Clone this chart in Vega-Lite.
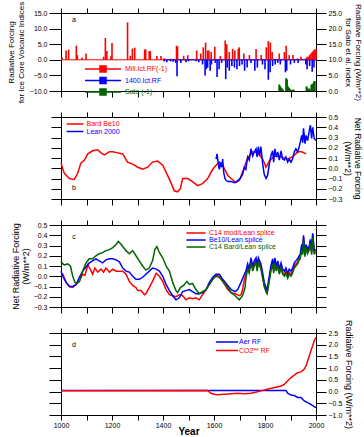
{
"$schema":"https://vega.github.io/schema/vega-lite/v6.json",
"padding":{"left":6,"top":0,"right":0,"bottom":0},
"bounds":"flush",
"spacing":26,
"config":{
 "font":"Liberation Sans",
 "view":{"stroke":"black","strokeWidth":1},
 "axis":{"grid":false,"domain":false,"tickColor":"black","labelColor":"black","titleColor":"black","labelFont":"Liberation Sans","titleFont":"Liberation Sans","labelFontSize":7,"titleFontSize":9,"titleFontWeight":"normal","labelFlush":false,"labelBound":false,"labelOverlap":false,"labelPadding":2,"tickWidth":1},
 "legend":{"labelFont":"Liberation Sans","labelFontSize":7,"padding":0,"symbolStrokeWidth":1.5}
},
"datasets":{
 "volc":[
  {"year":1004,"rf":0.7,"series":"Mill.Ict.RF(-1)"},{"year":1020,"rf":3.0,"series":"Mill.Ict.RF(-1)"},{"year":1030,"rf":3.3,"series":"Mill.Ict.RF(-1)"},{"year":1060,"rf":4.5,"series":"Mill.Ict.RF(-1)"},{"year":1064,"rf":1.5,"series":"Mill.Ict.RF(-1)"},{"year":1082,"rf":0.7,"series":"Mill.Ict.RF(-1)"},{"year":1098,"rf":2.0,"series":"Mill.Ict.RF(-1)"},{"year":1167,"rf":1.0,"series":"Mill.Ict.RF(-1)"},{"year":1174,"rf":7.0,"series":"Mill.Ict.RF(-1)"},{"year":1180,"rf":2.8,"series":"Mill.Ict.RF(-1)"},{"year":1196,"rf":1.2,"series":"Mill.Ict.RF(-1)"},{"year":1200,"rf":5.4,"series":"Mill.Ict.RF(-1)"},{"year":1261,"rf":12.0,"series":"Mill.Ict.RF(-1)"},{"year":1272,"rf":1.3,"series":"Mill.Ict.RF(-1)"},{"year":1280,"rf":3.6,"series":"Mill.Ict.RF(-1)"},{"year":1289,"rf":3.9,"series":"Mill.Ict.RF(-1)"},{"year":1328,"rf":3.3,"series":"Mill.Ict.RF(-1)"},{"year":1332,"rf":3.3,"series":"Mill.Ict.RF(-1)"},{"year":1346,"rf":2.8,"series":"Mill.Ict.RF(-1)"},{"year":1350,"rf":2.8,"series":"Mill.Ict.RF(-1)"},{"year":1376,"rf":1.2,"series":"Mill.Ict.RF(-1)"},{"year":1392,"rf":1.2,"series":"Mill.Ict.RF(-1)"},{"year":1405,"rf":0.5,"series":"Mill.Ict.RF(-1)"},{"year":1430,"rf":0.3,"series":"Mill.Ict.RF(-1)"},{"year":1453,"rf":4.5,"series":"Mill.Ict.RF(-1)"},{"year":1457,"rf":4.3,"series":"Mill.Ict.RF(-1)"},{"year":1481,"rf":1.3,"series":"Mill.Ict.RF(-1)"},{"year":1497,"rf":1.5,"series":"Mill.Ict.RF(-1)"},{"year":1532,"rf":3.0,"series":"Mill.Ict.RF(-1)"},{"year":1548,"rf":2.0,"series":"Mill.Ict.RF(-1)"},{"year":1558,"rf":4.0,"series":"Mill.Ict.RF(-1)"},{"year":1567,"rf":5.5,"series":"Mill.Ict.RF(-1)"},{"year":1575,"rf":3.0,"series":"Mill.Ict.RF(-1)"},{"year":1580,"rf":3.0,"series":"Mill.Ict.RF(-1)"},{"year":1589,"rf":2.5,"series":"Mill.Ict.RF(-1)"},{"year":1603,"rf":4.2,"series":"Mill.Ict.RF(-1)"},{"year":1625,"rf":1.2,"series":"Mill.Ict.RF(-1)"},{"year":1644,"rf":6.2,"series":"Mill.Ict.RF(-1)"},{"year":1650,"rf":5.0,"series":"Mill.Ict.RF(-1)"},{"year":1660,"rf":2.5,"series":"Mill.Ict.RF(-1)"},{"year":1673,"rf":3.5,"series":"Mill.Ict.RF(-1)"},{"year":1682,"rf":3.0,"series":"Mill.Ict.RF(-1)"},{"year":1695,"rf":3.5,"series":"Mill.Ict.RF(-1)"},{"year":1699,"rf":4.0,"series":"Mill.Ict.RF(-1)"},{"year":1717,"rf":2.0,"series":"Mill.Ict.RF(-1)"},{"year":1739,"rf":1.5,"series":"Mill.Ict.RF(-1)"},{"year":1765,"rf":3.5,"series":"Mill.Ict.RF(-1)"},{"year":1785,"rf":1.5,"series":"Mill.Ict.RF(-1)"},{"year":1805,"rf":4.0,"series":"Mill.Ict.RF(-1)"},{"year":1813,"rf":6.0,"series":"Mill.Ict.RF(-1)"},{"year":1821,"rf":5.5,"series":"Mill.Ict.RF(-1)"},{"year":1828,"rf":2.5,"series":"Mill.Ict.RF(-1)"},{"year":1856,"rf":2.0,"series":"Mill.Ict.RF(-1)"},{"year":1876,"rf":2.5,"series":"Mill.Ict.RF(-1)"},{"year":1883,"rf":4.5,"series":"Mill.Ict.RF(-1)"},{"year":1895,"rf":1.5,"series":"Mill.Ict.RF(-1)"},{"year":1910,"rf":1.5,"series":"Mill.Ict.RF(-1)"},{"year":1928,"rf":0.5,"series":"Mill.Ict.RF(-1)"},{"year":1941,"rf":1.0,"series":"Mill.Ict.RF(-1)"},{"year":1960,"rf":0.5,"series":"Mill.Ict.RF(-1)"},{"year":1965,"rf":1.0,"series":"Mill.Ict.RF(-1)"},{"year":1970,"rf":1.0,"series":"Mill.Ict.RF(-1)"},{"year":1975,"rf":1.5,"series":"Mill.Ict.RF(-1)"},{"year":1980,"rf":2.0,"series":"Mill.Ict.RF(-1)"},{"year":1985,"rf":2.5,"series":"Mill.Ict.RF(-1)"},{"year":1990,"rf":3.0,"series":"Mill.Ict.RF(-1)"},{"year":1995,"rf":3.3,"series":"Mill.Ict.RF(-1)"},{"year":2000,"rf":3.5,"series":"Mill.Ict.RF(-1)"},
  {"year":1405,"rf":-0.5,"series":"1400.Ict.RF"},{"year":1415,"rf":-0.8,"series":"1400.Ict.RF"},{"year":1430,"rf":-0.5,"series":"1400.Ict.RF"},{"year":1440,"rf":-0.6,"series":"1400.Ict.RF"},{"year":1450,"rf":-1.0,"series":"1400.Ict.RF"},{"year":1455,"rf":-5.3,"series":"1400.Ict.RF"},{"year":1470,"rf":-1.0,"series":"1400.Ict.RF"},{"year":1490,"rf":-0.8,"series":"1400.Ict.RF"},{"year":1500,"rf":-0.5,"series":"1400.Ict.RF"},{"year":1530,"rf":-0.5,"series":"1400.Ict.RF"},{"year":1540,"rf":-0.8,"series":"1400.Ict.RF"},{"year":1555,"rf":-1.5,"series":"1400.Ict.RF"},{"year":1565,"rf":-5.0,"series":"1400.Ict.RF"},{"year":1570,"rf":-3.0,"series":"1400.Ict.RF"},{"year":1575,"rf":-2.5,"series":"1400.Ict.RF"},{"year":1585,"rf":-3.5,"series":"1400.Ict.RF"},{"year":1590,"rf":-1.5,"series":"1400.Ict.RF"},{"year":1605,"rf":-1.0,"series":"1400.Ict.RF"},{"year":1612,"rf":-5.5,"series":"1400.Ict.RF"},{"year":1620,"rf":-3.0,"series":"1400.Ict.RF"},{"year":1630,"rf":-1.0,"series":"1400.Ict.RF"},{"year":1646,"rf":-6.2,"series":"1400.Ict.RF"},{"year":1652,"rf":-2.5,"series":"1400.Ict.RF"},{"year":1660,"rf":-3.5,"series":"1400.Ict.RF"},{"year":1670,"rf":-2.0,"series":"1400.Ict.RF"},{"year":1680,"rf":-2.5,"series":"1400.Ict.RF"},{"year":1690,"rf":-3.0,"series":"1400.Ict.RF"},{"year":1700,"rf":-2.0,"series":"1400.Ict.RF"},{"year":1710,"rf":-1.5,"series":"1400.Ict.RF"},{"year":1720,"rf":-3.5,"series":"1400.Ict.RF"},{"year":1730,"rf":-2.5,"series":"1400.Ict.RF"},{"year":1745,"rf":-1.0,"series":"1400.Ict.RF"},{"year":1760,"rf":-3.5,"series":"1400.Ict.RF"},{"year":1770,"rf":-2.5,"series":"1400.Ict.RF"},{"year":1790,"rf":-1.5,"series":"1400.Ict.RF"},{"year":1800,"rf":-3.0,"series":"1400.Ict.RF"},{"year":1813,"rf":-6.4,"series":"1400.Ict.RF"},{"year":1820,"rf":-4.0,"series":"1400.Ict.RF"},{"year":1830,"rf":-2.0,"series":"1400.Ict.RF"},{"year":1840,"rf":-1.5,"series":"1400.Ict.RF"},{"year":1850,"rf":-1.0,"series":"1400.Ict.RF"},{"year":1860,"rf":-1.5,"series":"1400.Ict.RF"},{"year":1880,"rf":-4.0,"series":"1400.Ict.RF"},{"year":1885,"rf":-3.5,"series":"1400.Ict.RF"},{"year":1900,"rf":-1.5,"series":"1400.Ict.RF"},{"year":1915,"rf":-1.0,"series":"1400.Ict.RF"},{"year":1930,"rf":-1.0,"series":"1400.Ict.RF"},{"year":1960,"rf":-1.5,"series":"1400.Ict.RF"},{"year":1965,"rf":-3.0,"series":"1400.Ict.RF"},{"year":1975,"rf":-2.0,"series":"1400.Ict.RF"},{"year":1985,"rf":-3.8,"series":"1400.Ict.RF"},{"year":1992,"rf":-2.5,"series":"1400.Ict.RF"}
 ],
 "sato":[
  {"year":1856,"sato":2.1,"series":"Sato (-1)"},{"year":1860,"sato":1.5,"series":"Sato (-1)"},{"year":1865,"sato":1.0,"series":"Sato (-1)"},{"year":1870,"sato":0.5,"series":"Sato (-1)"},{"year":1883,"sato":4.1,"series":"Sato (-1)"},{"year":1886,"sato":3.7,"series":"Sato (-1)"},{"year":1890,"sato":1.5,"series":"Sato (-1)"},{"year":1895,"sato":1.0,"series":"Sato (-1)"},{"year":1900,"sato":0.5,"series":"Sato (-1)"},{"year":1905,"sato":0.3,"series":"Sato (-1)"},{"year":1912,"sato":0.5,"series":"Sato (-1)"},{"year":1963,"sato":1.5,"series":"Sato (-1)"},{"year":1966,"sato":1.0,"series":"Sato (-1)"},{"year":1970,"sato":0.5,"series":"Sato (-1)"},{"year":1975,"sato":0.8,"series":"Sato (-1)"},{"year":1982,"sato":2.0,"series":"Sato (-1)"},{"year":1985,"sato":2.2,"series":"Sato (-1)"},{"year":1990,"sato":2.5,"series":"Sato (-1)"},{"year":1992,"sato":3.0,"series":"Sato (-1)"},{"year":1995,"sato":3.2,"series":"Sato (-1)"}
 ],
 "zero":[
  {"start":1000,"end":2000,"series":"Mill.Ict.RF(-1)"},{"start":1400,"end":2000,"series":"1400.Ict.RF"}
 ],
 "pb":[
  {"year":1000,"rf":0.05,"series":"Bard Be10"},{"year":1013,"rf":-0.05,"series":"Bard Be10"},{"year":1033,"rf":-0.10,"series":"Bard Be10"},{"year":1052,"rf":-0.11,"series":"Bard Be10"},{"year":1065,"rf":-0.05,"series":"Bard Be10"},{"year":1078,"rf":0.05,"series":"Bard Be10"},{"year":1092,"rf":0.08,"series":"Bard Be10"},{"year":1105,"rf":0.14,"series":"Bard Be10"},{"year":1124,"rf":0.17,"series":"Bard Be10"},{"year":1144,"rf":0.18,"series":"Bard Be10"},{"year":1157,"rf":0.15,"series":"Bard Be10"},{"year":1170,"rf":0.13,"series":"Bard Be10"},{"year":1190,"rf":0.16,"series":"Bard Be10"},{"year":1203,"rf":0.16,"series":"Bard Be10"},{"year":1222,"rf":0.15,"series":"Bard Be10"},{"year":1242,"rf":0.14,"series":"Bard Be10"},{"year":1261,"rf":0.06,"series":"Bard Be10"},{"year":1281,"rf":0.04,"series":"Bard Be10"},{"year":1301,"rf":0.01,"series":"Bard Be10"},{"year":1320,"rf":-0.01,"series":"Bard Be10"},{"year":1340,"rf":0.01,"series":"Bard Be10"},{"year":1359,"rf":0.06,"series":"Bard Be10"},{"year":1379,"rf":0.07,"series":"Bard Be10"},{"year":1399,"rf":0.03,"series":"Bard Be10"},{"year":1418,"rf":-0.07,"series":"Bard Be10"},{"year":1431,"rf":-0.14,"series":"Bard Be10"},{"year":1444,"rf":-0.22,"series":"Bard Be10"},{"year":1457,"rf":-0.23,"series":"Bard Be10"},{"year":1468,"rf":-0.20,"series":"Bard Be10"},{"year":1477,"rf":-0.10,"series":"Bard Be10"},{"year":1497,"rf":-0.10,"series":"Bard Be10"},{"year":1516,"rf":-0.13,"series":"Bard Be10"},{"year":1536,"rf":-0.17,"series":"Bard Be10"},{"year":1555,"rf":-0.15,"series":"Bard Be10"},{"year":1575,"rf":-0.10,"series":"Bard Be10"},{"year":1595,"rf":-0.01,"series":"Bard Be10"},{"year":1608,"rf":0.03,"series":"Bard Be10"},{"year":1621,"rf":0.06,"series":"Bard Be10"},{"year":1634,"rf":0.03,"series":"Bard Be10"},{"year":1654,"rf":-0.07,"series":"Bard Be10"},{"year":1667,"rf":-0.10,"series":"Bard Be10"},{"year":1686,"rf":-0.14,"series":"Bard Be10"},{"year":1699,"rf":-0.12,"series":"Bard Be10"},{"year":1719,"rf":0.01,"series":"Bard Be10"},{"year":1732,"rf":0.10,"series":"Bard Be10"},{"year":1752,"rf":0.16,"series":"Bard Be10"},{"year":1771,"rf":0.15,"series":"Bard Be10"},{"year":1791,"rf":0.09,"series":"Bard Be10"},{"year":1804,"rf":0.01,"series":"Bard Be10"},{"year":1817,"rf":0.07,"series":"Bard Be10"},{"year":1837,"rf":0.12,"series":"Bard Be10"},{"year":1863,"rf":0.11,"series":"Bard Be10"},{"year":1889,"rf":0.09,"series":"Bard Be10"},{"year":1908,"rf":0.11,"series":"Bard Be10"},{"year":1928,"rf":0.16,"series":"Bard Be10"},{"year":1944,"rf":0.16,"series":"Bard Be10"},{"year":1961,"rf":0.14,"series":"Bard Be10"},
  {"year":1608,"rf":0.09,"series":"Lean 2000"},{"year":1612,"rf":0.14,"series":"Lean 2000"},{"year":1617,"rf":0.04,"series":"Lean 2000"},{"year":1621,"rf":-0.01,"series":"Lean 2000"},{"year":1625,"rf":0.06,"series":"Lean 2000"},{"year":1630,"rf":0.01,"series":"Lean 2000"},{"year":1634,"rf":0.09,"series":"Lean 2000"},{"year":1638,"rf":-0.04,"series":"Lean 2000"},{"year":1643,"rf":-0.10,"series":"Lean 2000"},{"year":1648,"rf":-0.12,"series":"Lean 2000"},{"year":1654,"rf":-0.13,"series":"Lean 2000"},{"year":1667,"rf":-0.13,"series":"Lean 2000"},{"year":1680,"rf":-0.14,"series":"Lean 2000"},{"year":1693,"rf":-0.12,"series":"Lean 2000"},{"year":1703,"rf":-0.10,"series":"Lean 2000"},{"year":1712,"rf":-0.06,"series":"Lean 2000"},{"year":1719,"rf":0.01,"series":"Lean 2000"},{"year":1725,"rf":-0.01,"series":"Lean 2000"},{"year":1732,"rf":0.11,"series":"Lean 2000"},{"year":1738,"rf":0.08,"series":"Lean 2000"},{"year":1745,"rf":0.19,"series":"Lean 2000"},{"year":1752,"rf":0.12,"series":"Lean 2000"},{"year":1758,"rf":0.16,"series":"Lean 2000"},{"year":1765,"rf":0.19,"series":"Lean 2000"},{"year":1769,"rf":0.11,"series":"Lean 2000"},{"year":1774,"rf":0.21,"series":"Lean 2000"},{"year":1779,"rf":0.12,"series":"Lean 2000"},{"year":1784,"rf":0.21,"series":"Lean 2000"},{"year":1791,"rf":0.04,"series":"Lean 2000"},{"year":1797,"rf":-0.06,"series":"Lean 2000"},{"year":1804,"rf":-0.10,"series":"Lean 2000"},{"year":1810,"rf":-0.07,"series":"Lean 2000"},{"year":1817,"rf":0.04,"series":"Lean 2000"},{"year":1823,"rf":0.12,"series":"Lean 2000"},{"year":1830,"rf":0.17,"series":"Lean 2000"},{"year":1834,"rf":0.06,"series":"Lean 2000"},{"year":1839,"rf":0.19,"series":"Lean 2000"},{"year":1844,"rf":0.11,"series":"Lean 2000"},{"year":1850,"rf":0.16,"series":"Lean 2000"},{"year":1856,"rf":0.08,"series":"Lean 2000"},{"year":1863,"rf":0.17,"series":"Lean 2000"},{"year":1869,"rf":0.09,"series":"Lean 2000"},{"year":1876,"rf":0.08,"series":"Lean 2000"},{"year":1882,"rf":0.11,"series":"Lean 2000"},{"year":1889,"rf":0.06,"series":"Lean 2000"},{"year":1895,"rf":0.09,"series":"Lean 2000"},{"year":1902,"rf":0.06,"series":"Lean 2000"},{"year":1908,"rf":0.09,"series":"Lean 2000"},{"year":1915,"rf":0.16,"series":"Lean 2000"},{"year":1921,"rf":0.19,"series":"Lean 2000"},{"year":1928,"rf":0.16,"series":"Lean 2000"},{"year":1934,"rf":0.21,"series":"Lean 2000"},{"year":1938,"rf":0.25,"series":"Lean 2000"},{"year":1944,"rf":0.32,"series":"Lean 2000"},{"year":1948,"rf":0.25,"series":"Lean 2000"},{"year":1951,"rf":0.39,"series":"Lean 2000"},{"year":1957,"rf":0.24,"series":"Lean 2000"},{"year":1961,"rf":0.32,"series":"Lean 2000"},{"year":1967,"rf":0.27,"series":"Lean 2000"},{"year":1974,"rf":0.37,"series":"Lean 2000"},{"year":1978,"rf":0.42,"series":"Lean 2000"},{"year":1983,"rf":0.29,"series":"Lean 2000"},{"year":1987,"rf":0.40,"series":"Lean 2000"},{"year":1993,"rf":0.29,"series":"Lean 2000"},{"year":2000,"rf":0.27,"series":"Lean 2000"}
 ],
 "pc":[
  {"year":1000,"rf":0.00,"series":"C14 mod/Lean splice"},{"year":1007,"rf":0.02,"series":"C14 mod/Lean splice"},{"year":1020,"rf":-0.06,"series":"C14 mod/Lean splice"},{"year":1033,"rf":-0.10,"series":"C14 mod/Lean splice"},{"year":1046,"rf":-0.11,"series":"C14 mod/Lean splice"},{"year":1059,"rf":-0.08,"series":"C14 mod/Lean splice"},{"year":1072,"rf":-0.05,"series":"C14 mod/Lean splice"},{"year":1085,"rf":0.02,"series":"C14 mod/Lean splice"},{"year":1094,"rf":0.01,"series":"C14 mod/Lean splice"},{"year":1105,"rf":0.11,"series":"C14 mod/Lean splice"},{"year":1115,"rf":0.07,"series":"C14 mod/Lean splice"},{"year":1124,"rf":0.02,"series":"C14 mod/Lean splice"},{"year":1133,"rf":0.08,"series":"C14 mod/Lean splice"},{"year":1144,"rf":0.04,"series":"C14 mod/Lean splice"},{"year":1157,"rf":0.07,"series":"C14 mod/Lean splice"},{"year":1167,"rf":0.04,"series":"C14 mod/Lean splice"},{"year":1176,"rf":0.08,"series":"C14 mod/Lean splice"},{"year":1190,"rf":0.04,"series":"C14 mod/Lean splice"},{"year":1203,"rf":0.07,"series":"C14 mod/Lean splice"},{"year":1216,"rf":0.05,"series":"C14 mod/Lean splice"},{"year":1229,"rf":0.05,"series":"C14 mod/Lean splice"},{"year":1242,"rf":0.05,"series":"C14 mod/Lean splice"},{"year":1255,"rf":0.02,"series":"C14 mod/Lean splice"},{"year":1268,"rf":-0.05,"series":"C14 mod/Lean splice"},{"year":1281,"rf":-0.09,"series":"C14 mod/Lean splice"},{"year":1294,"rf":-0.11,"series":"C14 mod/Lean splice"},{"year":1301,"rf":-0.14,"series":"C14 mod/Lean splice"},{"year":1314,"rf":-0.14,"series":"C14 mod/Lean splice"},{"year":1327,"rf":-0.18,"series":"C14 mod/Lean splice"},{"year":1333,"rf":-0.17,"series":"C14 mod/Lean splice"},{"year":1346,"rf":-0.11,"series":"C14 mod/Lean splice"},{"year":1359,"rf":-0.05,"series":"C14 mod/Lean splice"},{"year":1373,"rf":0.03,"series":"C14 mod/Lean splice"},{"year":1386,"rf":0.00,"series":"C14 mod/Lean splice"},{"year":1399,"rf":-0.05,"series":"C14 mod/Lean splice"},{"year":1412,"rf":-0.13,"series":"C14 mod/Lean splice"},{"year":1425,"rf":-0.18,"series":"C14 mod/Lean splice"},{"year":1438,"rf":-0.19,"series":"C14 mod/Lean splice"},{"year":1451,"rf":-0.20,"series":"C14 mod/Lean splice"},{"year":1464,"rf":-0.18,"series":"C14 mod/Lean splice"},{"year":1477,"rf":-0.19,"series":"C14 mod/Lean splice"},{"year":1490,"rf":-0.23,"series":"C14 mod/Lean splice"},{"year":1503,"rf":-0.21,"series":"C14 mod/Lean splice"},{"year":1516,"rf":-0.22,"series":"C14 mod/Lean splice"},{"year":1529,"rf":-0.21,"series":"C14 mod/Lean splice"},{"year":1542,"rf":-0.23,"series":"C14 mod/Lean splice"},{"year":1555,"rf":-0.18,"series":"C14 mod/Lean splice"},{"year":1569,"rf":-0.13,"series":"C14 mod/Lean splice"},{"year":1582,"rf":-0.08,"series":"C14 mod/Lean splice"},{"year":1595,"rf":-0.03,"series":"C14 mod/Lean splice"},{"year":1608,"rf":0.01,"series":"C14 mod/Lean splice"},{"year":1621,"rf":0.00,"series":"C14 mod/Lean splice"},{"year":1634,"rf":-0.05,"series":"C14 mod/Lean splice"},{"year":1654,"rf":-0.13,"series":"C14 mod/Lean splice"},{"year":1667,"rf":-0.16,"series":"C14 mod/Lean splice"},{"year":1683,"rf":-0.17,"series":"C14 mod/Lean splice"},{"year":1699,"rf":-0.19,"series":"C14 mod/Lean splice"},{"year":1706,"rf":-0.18,"series":"C14 mod/Lean splice"},{"year":1712,"rf":-0.13,"series":"C14 mod/Lean splice"},{"year":1719,"rf":-0.03,"series":"C14 mod/Lean splice"},{"year":1725,"rf":0.02,"series":"C14 mod/Lean splice"},{"year":1732,"rf":0.09,"series":"C14 mod/Lean splice"},{"year":1738,"rf":0.05,"series":"C14 mod/Lean splice"},{"year":1745,"rf":0.15,"series":"C14 mod/Lean splice"},{"year":1752,"rf":0.07,"series":"C14 mod/Lean splice"},{"year":1758,"rf":0.12,"series":"C14 mod/Lean splice"},{"year":1765,"rf":0.15,"series":"C14 mod/Lean splice"},{"year":1769,"rf":0.07,"series":"C14 mod/Lean splice"},{"year":1774,"rf":0.15,"series":"C14 mod/Lean splice"},{"year":1784,"rf":0.09,"series":"C14 mod/Lean splice"},{"year":1791,"rf":0.00,"series":"C14 mod/Lean splice"},{"year":1797,"rf":-0.09,"series":"C14 mod/Lean splice"},{"year":1804,"rf":-0.14,"series":"C14 mod/Lean splice"},{"year":1808,"rf":-0.17,"series":"C14 mod/Lean splice"},{"year":1813,"rf":-0.09,"series":"C14 mod/Lean splice"},{"year":1818,"rf":-0.01,"series":"C14 mod/Lean splice"},{"year":1823,"rf":0.07,"series":"C14 mod/Lean splice"},{"year":1830,"rf":0.14,"series":"C14 mod/Lean splice"},{"year":1834,"rf":0.05,"series":"C14 mod/Lean splice"},{"year":1839,"rf":0.15,"series":"C14 mod/Lean splice"},{"year":1844,"rf":0.07,"series":"C14 mod/Lean splice"},{"year":1850,"rf":0.12,"series":"C14 mod/Lean splice"},{"year":1856,"rf":0.04,"series":"C14 mod/Lean splice"},{"year":1863,"rf":0.10,"series":"C14 mod/Lean splice"},{"year":1869,"rf":0.04,"series":"C14 mod/Lean splice"},{"year":1876,"rf":0.02,"series":"C14 mod/Lean splice"},{"year":1882,"rf":0.05,"series":"C14 mod/Lean splice"},{"year":1889,"rf":0.00,"series":"C14 mod/Lean splice"},{"year":1895,"rf":0.04,"series":"C14 mod/Lean splice"},{"year":1902,"rf":0.02,"series":"C14 mod/Lean splice"},{"year":1908,"rf":0.05,"series":"C14 mod/Lean splice"},{"year":1915,"rf":0.10,"series":"C14 mod/Lean splice"},{"year":1921,"rf":0.12,"series":"C14 mod/Lean splice"},{"year":1928,"rf":0.14,"series":"C14 mod/Lean splice"},{"year":1934,"rf":0.18,"series":"C14 mod/Lean splice"},{"year":1938,"rf":0.19,"series":"C14 mod/Lean splice"},{"year":1944,"rf":0.29,"series":"C14 mod/Lean splice"},{"year":1948,"rf":0.23,"series":"C14 mod/Lean splice"},{"year":1951,"rf":0.38,"series":"C14 mod/Lean splice"},{"year":1957,"rf":0.21,"series":"C14 mod/Lean splice"},{"year":1961,"rf":0.30,"series":"C14 mod/Lean splice"},{"year":1967,"rf":0.24,"series":"C14 mod/Lean splice"},{"year":1974,"rf":0.28,"series":"C14 mod/Lean splice"},{"year":1978,"rf":0.34,"series":"C14 mod/Lean splice"},{"year":1983,"rf":0.23,"series":"C14 mod/Lean splice"},{"year":1987,"rf":0.41,"series":"C14 mod/Lean splice"},{"year":1993,"rf":0.24,"series":"C14 mod/Lean splice"},{"year":2000,"rf":0.25,"series":"C14 mod/Lean splice"},
  {"year":1000,"rf":0.05,"series":"Be10/Lean splice"},{"year":1007,"rf":0.00,"series":"Be10/Lean splice"},{"year":1020,"rf":-0.06,"series":"Be10/Lean splice"},{"year":1033,"rf":-0.10,"series":"Be10/Lean splice"},{"year":1046,"rf":-0.10,"series":"Be10/Lean splice"},{"year":1059,"rf":-0.08,"series":"Be10/Lean splice"},{"year":1072,"rf":-0.01,"series":"Be10/Lean splice"},{"year":1085,"rf":0.05,"series":"Be10/Lean splice"},{"year":1098,"rf":0.09,"series":"Be10/Lean splice"},{"year":1111,"rf":0.13,"series":"Be10/Lean splice"},{"year":1124,"rf":0.15,"series":"Be10/Lean splice"},{"year":1137,"rf":0.17,"series":"Be10/Lean splice"},{"year":1150,"rf":0.15,"series":"Be10/Lean splice"},{"year":1163,"rf":0.13,"series":"Be10/Lean splice"},{"year":1176,"rf":0.16,"series":"Be10/Lean splice"},{"year":1190,"rf":0.17,"series":"Be10/Lean splice"},{"year":1203,"rf":0.17,"series":"Be10/Lean splice"},{"year":1216,"rf":0.16,"series":"Be10/Lean splice"},{"year":1229,"rf":0.14,"series":"Be10/Lean splice"},{"year":1242,"rf":0.08,"series":"Be10/Lean splice"},{"year":1255,"rf":0.05,"series":"Be10/Lean splice"},{"year":1268,"rf":0.04,"series":"Be10/Lean splice"},{"year":1281,"rf":0.00,"series":"Be10/Lean splice"},{"year":1294,"rf":-0.03,"series":"Be10/Lean splice"},{"year":1307,"rf":-0.03,"series":"Be10/Lean splice"},{"year":1320,"rf":-0.01,"series":"Be10/Lean splice"},{"year":1333,"rf":0.02,"series":"Be10/Lean splice"},{"year":1346,"rf":0.05,"series":"Be10/Lean splice"},{"year":1359,"rf":0.08,"series":"Be10/Lean splice"},{"year":1373,"rf":0.07,"series":"Be10/Lean splice"},{"year":1386,"rf":0.05,"series":"Be10/Lean splice"},{"year":1399,"rf":0.00,"series":"Be10/Lean splice"},{"year":1412,"rf":-0.08,"series":"Be10/Lean splice"},{"year":1425,"rf":-0.14,"series":"Be10/Lean splice"},{"year":1438,"rf":-0.19,"series":"Be10/Lean splice"},{"year":1451,"rf":-0.23,"series":"Be10/Lean splice"},{"year":1464,"rf":-0.21,"series":"Be10/Lean splice"},{"year":1477,"rf":-0.15,"series":"Be10/Lean splice"},{"year":1490,"rf":-0.14,"series":"Be10/Lean splice"},{"year":1503,"rf":-0.13,"series":"Be10/Lean splice"},{"year":1516,"rf":-0.15,"series":"Be10/Lean splice"},{"year":1529,"rf":-0.17,"series":"Be10/Lean splice"},{"year":1542,"rf":-0.17,"series":"Be10/Lean splice"},{"year":1555,"rf":-0.16,"series":"Be10/Lean splice"},{"year":1569,"rf":-0.13,"series":"Be10/Lean splice"},{"year":1582,"rf":-0.06,"series":"Be10/Lean splice"},{"year":1595,"rf":-0.01,"series":"Be10/Lean splice"},{"year":1608,"rf":0.02,"series":"Be10/Lean splice"},{"year":1621,"rf":0.02,"series":"Be10/Lean splice"},{"year":1634,"rf":-0.03,"series":"Be10/Lean splice"},{"year":1654,"rf":-0.09,"series":"Be10/Lean splice"},{"year":1667,"rf":-0.13,"series":"Be10/Lean splice"},{"year":1683,"rf":-0.15,"series":"Be10/Lean splice"},{"year":1693,"rf":-0.13,"series":"Be10/Lean splice"},{"year":1706,"rf":-0.06,"series":"Be10/Lean splice"},{"year":1719,"rf":0.02,"series":"Be10/Lean splice"},{"year":1725,"rf":0.05,"series":"Be10/Lean splice"},{"year":1732,"rf":0.12,"series":"Be10/Lean splice"},{"year":1738,"rf":0.07,"series":"Be10/Lean splice"},{"year":1745,"rf":0.18,"series":"Be10/Lean splice"},{"year":1752,"rf":0.10,"series":"Be10/Lean splice"},{"year":1758,"rf":0.15,"series":"Be10/Lean splice"},{"year":1765,"rf":0.18,"series":"Be10/Lean splice"},{"year":1769,"rf":0.10,"series":"Be10/Lean splice"},{"year":1774,"rf":0.18,"series":"Be10/Lean splice"},{"year":1784,"rf":0.12,"series":"Be10/Lean splice"},{"year":1791,"rf":0.03,"series":"Be10/Lean splice"},{"year":1797,"rf":-0.06,"series":"Be10/Lean splice"},{"year":1804,"rf":-0.11,"series":"Be10/Lean splice"},{"year":1808,"rf":-0.14,"series":"Be10/Lean splice"},{"year":1813,"rf":-0.06,"series":"Be10/Lean splice"},{"year":1818,"rf":0.02,"series":"Be10/Lean splice"},{"year":1823,"rf":0.10,"series":"Be10/Lean splice"},{"year":1830,"rf":0.17,"series":"Be10/Lean splice"},{"year":1834,"rf":0.08,"series":"Be10/Lean splice"},{"year":1839,"rf":0.18,"series":"Be10/Lean splice"},{"year":1844,"rf":0.10,"series":"Be10/Lean splice"},{"year":1850,"rf":0.15,"series":"Be10/Lean splice"},{"year":1856,"rf":0.07,"series":"Be10/Lean splice"},{"year":1863,"rf":0.13,"series":"Be10/Lean splice"},{"year":1869,"rf":0.07,"series":"Be10/Lean splice"},{"year":1876,"rf":0.05,"series":"Be10/Lean splice"},{"year":1882,"rf":0.08,"series":"Be10/Lean splice"},{"year":1889,"rf":0.03,"series":"Be10/Lean splice"},{"year":1895,"rf":0.07,"series":"Be10/Lean splice"},{"year":1902,"rf":0.05,"series":"Be10/Lean splice"},{"year":1908,"rf":0.08,"series":"Be10/Lean splice"},{"year":1915,"rf":0.13,"series":"Be10/Lean splice"},{"year":1921,"rf":0.15,"series":"Be10/Lean splice"},{"year":1928,"rf":0.17,"series":"Be10/Lean splice"},{"year":1934,"rf":0.20,"series":"Be10/Lean splice"},{"year":1938,"rf":0.21,"series":"Be10/Lean splice"},{"year":1944,"rf":0.31,"series":"Be10/Lean splice"},{"year":1948,"rf":0.25,"series":"Be10/Lean splice"},{"year":1951,"rf":0.40,"series":"Be10/Lean splice"},{"year":1957,"rf":0.23,"series":"Be10/Lean splice"},{"year":1961,"rf":0.31,"series":"Be10/Lean splice"},{"year":1967,"rf":0.26,"series":"Be10/Lean splice"},{"year":1974,"rf":0.30,"series":"Be10/Lean splice"},{"year":1978,"rf":0.36,"series":"Be10/Lean splice"},{"year":1983,"rf":0.25,"series":"Be10/Lean splice"},{"year":1987,"rf":0.42,"series":"Be10/Lean splice"},{"year":1993,"rf":0.25,"series":"Be10/Lean splice"},{"year":2000,"rf":0.26,"series":"Be10/Lean splice"},
  {"year":1000,"rf":0.15,"series":"C14 Bard/Lean splice"},{"year":1007,"rf":0.12,"series":"C14 Bard/Lean splice"},{"year":1013,"rf":0.11,"series":"C14 Bard/Lean splice"},{"year":1026,"rf":0.12,"series":"C14 Bard/Lean splice"},{"year":1037,"rf":0.10,"series":"C14 Bard/Lean splice"},{"year":1046,"rf":0.00,"series":"C14 Bard/Lean splice"},{"year":1055,"rf":-0.06,"series":"C14 Bard/Lean splice"},{"year":1063,"rf":-0.07,"series":"C14 Bard/Lean splice"},{"year":1072,"rf":-0.05,"series":"C14 Bard/Lean splice"},{"year":1085,"rf":0.05,"series":"C14 Bard/Lean splice"},{"year":1098,"rf":0.13,"series":"C14 Bard/Lean splice"},{"year":1111,"rf":0.17,"series":"C14 Bard/Lean splice"},{"year":1124,"rf":0.17,"series":"C14 Bard/Lean splice"},{"year":1137,"rf":0.20,"series":"C14 Bard/Lean splice"},{"year":1150,"rf":0.22,"series":"C14 Bard/Lean splice"},{"year":1163,"rf":0.23,"series":"C14 Bard/Lean splice"},{"year":1176,"rf":0.25,"series":"C14 Bard/Lean splice"},{"year":1190,"rf":0.26,"series":"C14 Bard/Lean splice"},{"year":1203,"rf":0.28,"series":"C14 Bard/Lean splice"},{"year":1216,"rf":0.31,"series":"C14 Bard/Lean splice"},{"year":1225,"rf":0.34,"series":"C14 Bard/Lean splice"},{"year":1233,"rf":0.32,"series":"C14 Bard/Lean splice"},{"year":1242,"rf":0.29,"series":"C14 Bard/Lean splice"},{"year":1255,"rf":0.25,"series":"C14 Bard/Lean splice"},{"year":1268,"rf":0.22,"series":"C14 Bard/Lean splice"},{"year":1281,"rf":0.25,"series":"C14 Bard/Lean splice"},{"year":1294,"rf":0.20,"series":"C14 Bard/Lean splice"},{"year":1307,"rf":0.15,"series":"C14 Bard/Lean splice"},{"year":1320,"rf":0.10,"series":"C14 Bard/Lean splice"},{"year":1333,"rf":0.06,"series":"C14 Bard/Lean splice"},{"year":1346,"rf":0.08,"series":"C14 Bard/Lean splice"},{"year":1359,"rf":0.15,"series":"C14 Bard/Lean splice"},{"year":1368,"rf":0.26,"series":"C14 Bard/Lean splice"},{"year":1376,"rf":0.29,"series":"C14 Bard/Lean splice"},{"year":1386,"rf":0.23,"series":"C14 Bard/Lean splice"},{"year":1399,"rf":0.18,"series":"C14 Bard/Lean splice"},{"year":1412,"rf":0.10,"series":"C14 Bard/Lean splice"},{"year":1425,"rf":0.05,"series":"C14 Bard/Lean splice"},{"year":1438,"rf":-0.06,"series":"C14 Bard/Lean splice"},{"year":1451,"rf":-0.14,"series":"C14 Bard/Lean splice"},{"year":1457,"rf":-0.16,"series":"C14 Bard/Lean splice"},{"year":1468,"rf":-0.11,"series":"C14 Bard/Lean splice"},{"year":1481,"rf":-0.09,"series":"C14 Bard/Lean splice"},{"year":1494,"rf":-0.05,"series":"C14 Bard/Lean splice"},{"year":1503,"rf":-0.08,"series":"C14 Bard/Lean splice"},{"year":1516,"rf":-0.07,"series":"C14 Bard/Lean splice"},{"year":1529,"rf":-0.13,"series":"C14 Bard/Lean splice"},{"year":1542,"rf":-0.17,"series":"C14 Bard/Lean splice"},{"year":1555,"rf":-0.15,"series":"C14 Bard/Lean splice"},{"year":1569,"rf":-0.13,"series":"C14 Bard/Lean splice"},{"year":1582,"rf":-0.08,"series":"C14 Bard/Lean splice"},{"year":1595,"rf":-0.03,"series":"C14 Bard/Lean splice"},{"year":1608,"rf":0.00,"series":"C14 Bard/Lean splice"},{"year":1621,"rf":-0.01,"series":"C14 Bard/Lean splice"},{"year":1634,"rf":-0.05,"series":"C14 Bard/Lean splice"},{"year":1654,"rf":-0.11,"series":"C14 Bard/Lean splice"},{"year":1667,"rf":-0.16,"series":"C14 Bard/Lean splice"},{"year":1683,"rf":-0.19,"series":"C14 Bard/Lean splice"},{"year":1699,"rf":-0.23,"series":"C14 Bard/Lean splice"},{"year":1712,"rf":-0.19,"series":"C14 Bard/Lean splice"},{"year":1722,"rf":-0.11,"series":"C14 Bard/Lean splice"},{"year":1725,"rf":-0.02,"series":"C14 Bard/Lean splice"},{"year":1732,"rf":0.07,"series":"C14 Bard/Lean splice"},{"year":1738,"rf":0.03,"series":"C14 Bard/Lean splice"},{"year":1745,"rf":0.13,"series":"C14 Bard/Lean splice"},{"year":1752,"rf":0.05,"series":"C14 Bard/Lean splice"},{"year":1758,"rf":0.10,"series":"C14 Bard/Lean splice"},{"year":1765,"rf":0.13,"series":"C14 Bard/Lean splice"},{"year":1769,"rf":0.05,"series":"C14 Bard/Lean splice"},{"year":1774,"rf":0.13,"series":"C14 Bard/Lean splice"},{"year":1784,"rf":0.07,"series":"C14 Bard/Lean splice"},{"year":1791,"rf":-0.02,"series":"C14 Bard/Lean splice"},{"year":1797,"rf":-0.10,"series":"C14 Bard/Lean splice"},{"year":1804,"rf":-0.15,"series":"C14 Bard/Lean splice"},{"year":1808,"rf":-0.17,"series":"C14 Bard/Lean splice"},{"year":1813,"rf":-0.10,"series":"C14 Bard/Lean splice"},{"year":1818,"rf":-0.03,"series":"C14 Bard/Lean splice"},{"year":1823,"rf":0.05,"series":"C14 Bard/Lean splice"},{"year":1830,"rf":0.12,"series":"C14 Bard/Lean splice"},{"year":1834,"rf":0.03,"series":"C14 Bard/Lean splice"},{"year":1839,"rf":0.13,"series":"C14 Bard/Lean splice"},{"year":1844,"rf":0.05,"series":"C14 Bard/Lean splice"},{"year":1850,"rf":0.10,"series":"C14 Bard/Lean splice"},{"year":1856,"rf":0.02,"series":"C14 Bard/Lean splice"},{"year":1863,"rf":0.08,"series":"C14 Bard/Lean splice"},{"year":1869,"rf":0.02,"series":"C14 Bard/Lean splice"},{"year":1876,"rf":0.00,"series":"C14 Bard/Lean splice"},{"year":1882,"rf":0.03,"series":"C14 Bard/Lean splice"},{"year":1889,"rf":-0.02,"series":"C14 Bard/Lean splice"},{"year":1895,"rf":0.02,"series":"C14 Bard/Lean splice"},{"year":1902,"rf":0.00,"series":"C14 Bard/Lean splice"},{"year":1908,"rf":0.03,"series":"C14 Bard/Lean splice"},{"year":1915,"rf":0.08,"series":"C14 Bard/Lean splice"},{"year":1921,"rf":0.10,"series":"C14 Bard/Lean splice"},{"year":1928,"rf":0.12,"series":"C14 Bard/Lean splice"},{"year":1934,"rf":0.16,"series":"C14 Bard/Lean splice"},{"year":1938,"rf":0.17,"series":"C14 Bard/Lean splice"},{"year":1944,"rf":0.26,"series":"C14 Bard/Lean splice"},{"year":1948,"rf":0.21,"series":"C14 Bard/Lean splice"},{"year":1951,"rf":0.35,"series":"C14 Bard/Lean splice"},{"year":1957,"rf":0.19,"series":"C14 Bard/Lean splice"},{"year":1961,"rf":0.28,"series":"C14 Bard/Lean splice"},{"year":1967,"rf":0.22,"series":"C14 Bard/Lean splice"},{"year":1974,"rf":0.26,"series":"C14 Bard/Lean splice"},{"year":1978,"rf":0.32,"series":"C14 Bard/Lean splice"},{"year":1983,"rf":0.21,"series":"C14 Bard/Lean splice"},{"year":1987,"rf":0.38,"series":"C14 Bard/Lean splice"},{"year":1993,"rf":0.22,"series":"C14 Bard/Lean splice"},{"year":2000,"rf":0.23,"series":"C14 Bard/Lean splice"}
 ],
 "pd":[
  {"year":1000,"rf":0.05,"series":"Aer RF"},{"year":1500,"rf":0.05,"series":"Aer RF"},{"year":1882,"rf":0.05,"series":"Aer RF"},{"year":1889,"rf":-0.07,"series":"Aer RF"},{"year":1902,"rf":-0.15,"series":"Aer RF"},{"year":1915,"rf":-0.17,"series":"Aer RF"},{"year":1928,"rf":-0.25,"series":"Aer RF"},{"year":1941,"rf":-0.25,"series":"Aer RF"},{"year":1954,"rf":-0.40,"series":"Aer RF"},{"year":1967,"rf":-0.47,"series":"Aer RF"},{"year":1980,"rf":-0.55,"series":"Aer RF"},{"year":1993,"rf":-0.64,"series":"Aer RF"},{"year":2000,"rf":-0.69,"series":"Aer RF"},
  {"year":1000,"rf":0.03,"series":"CO2** RF"},{"year":1575,"rf":0.05,"series":"CO2** RF"},{"year":1588,"rf":-0.07,"series":"CO2** RF"},{"year":1601,"rf":-0.11,"series":"CO2** RF"},{"year":1614,"rf":-0.14,"series":"CO2** RF"},{"year":1640,"rf":-0.11,"series":"CO2** RF"},{"year":1667,"rf":-0.09,"series":"CO2** RF"},{"year":1693,"rf":-0.07,"series":"CO2** RF"},{"year":1719,"rf":-0.09,"series":"CO2** RF"},{"year":1745,"rf":-0.07,"series":"CO2** RF"},{"year":1771,"rf":-0.01,"series":"CO2** RF"},{"year":1791,"rf":0.05,"series":"CO2** RF"},{"year":1810,"rf":0.10,"series":"CO2** RF"},{"year":1837,"rf":0.17,"series":"CO2** RF"},{"year":1863,"rf":0.24,"series":"CO2** RF"},{"year":1876,"rf":0.31,"series":"CO2** RF"},{"year":1889,"rf":0.46,"series":"CO2** RF"},{"year":1902,"rf":0.60,"series":"CO2** RF"},{"year":1915,"rf":0.70,"series":"CO2** RF"},{"year":1928,"rf":0.81,"series":"CO2** RF"},{"year":1941,"rf":0.84,"series":"CO2** RF"},{"year":1954,"rf":0.96,"series":"CO2** RF"},{"year":1961,"rf":1.10,"series":"CO2** RF"},{"year":1967,"rf":1.31,"series":"CO2** RF"},{"year":1974,"rf":1.53,"series":"CO2** RF"},{"year":1980,"rf":1.74,"series":"CO2** RF"},{"year":1987,"rf":1.96,"series":"CO2** RF"},{"year":1993,"rf":2.17,"series":"CO2** RF"},{"year":2000,"rf":2.31,"series":"CO2** RF"}
 ],
 "lab_a":[{"t":"a"}],"lab_b":[{"t":"b"}],"lab_c":[{"t":"c"}],"lab_d":[{"t":"d"}]
},
"resolve":{"scale":{"color":"independent"},"legend":{"color":"independent"}},
"vconcat":[
 {
  "width":255,"height":78,
  "layer":[
   {"layer":[
     {"data":{"name":"zero"},"mark":{"type":"rule","strokeWidth":1},
      "encoding":{
       "x":{"field":"start","type":"quantitative","title":null,"scale":{"domain":[1000,2000],"nice":false,"zero":false},"axis":{"orient":"bottom","values":[1000,1100,1200,1300,1400,1500,1600,1700,1800,1900,2000],"tickCount":50,"labels":false,"tickSize":6,"title":null}},
       "x2":{"field":"end"},
       "y":{"datum":0,"type":"quantitative","scale":{"domain":[-10,15],"nice":false,"zero":false},"axis":{"orient":"left","values":[-10,-5,0,5,10,15],"tickCount":50,"labelOverlap":false,"tickSize":12,"title":["Radiative Forcing","for Ice Core Volcanic Indices"],"titleFontSize":8,"titlePadding":4}},
       "color":{"field":"series","type":"nominal","scale":{"domain":["Mill.Ict.RF(-1)","1400.Ict.RF","Sato (-1)"],"range":["#ff0000","#0000ff","#006400"]},
        "legend":{"title":null,"orient":"none","legendX":38,"legendY":52,"symbolType":"M-6,0H6M-1,-1H1V1H-1Z","symbolSize":36,"labelOffset":18,"rowPadding":-0.5,
         "encode":{"symbols":{"update":{"fill":{"signal":"datum.value === 'Mill.Ict.RF(-1)' ? '#ff0000' : datum.value === '1400.Ict.RF' ? '#0000ff' : '#006400'"},"stroke":{"signal":"datum.value === 'Mill.Ict.RF(-1)' ? '#ff0000' : datum.value === '1400.Ict.RF' ? '#0000ff' : '#006400'"},"opacity":{"value":1}}},
                   "labels":{"update":{"fill":{"signal":"datum.value === 'Mill.Ict.RF(-1)' ? '#ff0000' : datum.value === '1400.Ict.RF' ? '#0000ff' : '#006400'"}}}}}}
      }},
     {"data":{"name":"volc"},"mark":{"type":"rule","strokeWidth":1.6},
      "encoding":{
       "x":{"field":"year","type":"quantitative","title":null,"scale":{"domain":[1000,2000],"nice":false,"zero":false},"axis":{"orient":"bottom","values":[1000,1100,1200,1300,1400,1500,1600,1700,1800,1900,2000],"tickCount":50,"labels":false,"tickSize":6,"title":null}},
       "y":{"field":"rf","type":"quantitative","scale":{"domain":[-10,15],"nice":false,"zero":false},"axis":{"orient":"left","values":[-10,-5,0,5,10,15],"tickCount":50,"labelOverlap":false,"tickSize":12,"title":["Radiative Forcing","for Ice Core Volcanic Indices"],"titleFontSize":8,"titlePadding":4}},
       "y2":{"datum":0},
       "color":{"field":"series","type":"nominal","scale":{"domain":["Mill.Ict.RF(-1)","1400.Ict.RF","Sato (-1)"],"range":["#ff0000","#0000ff","#006400"]},
        "legend":{"title":null,"orient":"none","legendX":38,"legendY":52,"symbolType":"M-6,0H6M-1,-1H1V1H-1Z","symbolSize":36,"labelOffset":18,"rowPadding":-0.5,
         "encode":{"symbols":{"update":{"fill":{"signal":"datum.value === 'Mill.Ict.RF(-1)' ? '#ff0000' : datum.value === '1400.Ict.RF' ? '#0000ff' : '#006400'"},"stroke":{"signal":"datum.value === 'Mill.Ict.RF(-1)' ? '#ff0000' : datum.value === '1400.Ict.RF' ? '#0000ff' : '#006400'"},"opacity":{"value":1}}},
                   "labels":{"update":{"fill":{"signal":"datum.value === 'Mill.Ict.RF(-1)' ? '#ff0000' : datum.value === '1400.Ict.RF' ? '#0000ff' : '#006400'"}}}}}}
      }},
     {"data":{"name":"lab_a"},"mark":{"type":"text","fontSize":7,"font":"Liberation Sans","color":"black"},
      "encoding":{"x":{"datum":1051,"type":"quantitative"},"y":{"datum":12.8,"type":"quantitative"},"text":{"field":"t"}}}
   ]},
   {"data":{"name":"sato"},"mark":{"type":"rule","strokeWidth":2},
    "encoding":{
     "x":{"field":"year","type":"quantitative","title":null,"scale":{"domain":[1000,2000],"nice":false,"zero":false},"axis":{"orient":"top","values":[1000,1100,1200,1300,1400,1500,1600,1700,1800,1900,2000],"tickCount":50,"labels":false,"tickSize":5,"title":null}},
     "y":{"field":"sato","type":"quantitative","scale":{"domain":[0,25],"nice":false,"zero":false},"axis":{"orient":"right","values":[0,5,10,15,20,25],"tickCount":50,"labelOverlap":false,"tickSize":10,"title":["Radiative Forcing (W/m**2)","for Sato et al. index"],"titleFontSize":8,"titlePadding":2}},
     "y2":{"datum":0},
     "color":{"field":"series","type":"nominal","scale":{"domain":["Mill.Ict.RF(-1)","1400.Ict.RF","Sato (-1)"],"range":["#ff0000","#0000ff","#006400"]},
        "legend":{"title":null,"orient":"none","legendX":38,"legendY":52,"symbolType":"M-6,0H6M-1,-1H1V1H-1Z","symbolSize":36,"labelOffset":18,"rowPadding":-0.5,
         "encode":{"symbols":{"update":{"fill":{"signal":"datum.value === 'Mill.Ict.RF(-1)' ? '#ff0000' : datum.value === '1400.Ict.RF' ? '#0000ff' : '#006400'"},"stroke":{"signal":"datum.value === 'Mill.Ict.RF(-1)' ? '#ff0000' : datum.value === '1400.Ict.RF' ? '#0000ff' : '#006400'"},"opacity":{"value":1}}},
                   "labels":{"update":{"fill":{"signal":"datum.value === 'Mill.Ict.RF(-1)' ? '#ff0000' : datum.value === '1400.Ict.RF' ? '#0000ff' : '#006400'"}}}}}}
    }}
  ],
  "resolve":{"scale":{"x":"independent","y":"independent"}}
 },
 {
  "width":255,"height":82,
  "layer":[
   {"layer":[
     {"data":{"name":"pb"},"mark":{"type":"line","strokeWidth":1.5},
      "encoding":{
       "x":{"field":"year","type":"quantitative","title":null,"scale":{"domain":[1000,2000],"nice":false,"zero":false},"axis":{"orient":"bottom","values":[1000,1100,1200,1300,1400,1500,1600,1700,1800,1900,2000],"tickCount":50,"labels":false,"tickSize":6,"title":null}},
       "y":{"field":"rf","type":"quantitative","scale":{"domain":[-0.3,0.5],"nice":false,"zero":false},"axis":{"orient":"right","values":[-0.3,-0.2,-0.1,0,0.1,0.2,0.3,0.4,0.5],"tickCount":50,"labelOverlap":false,"format":".1f","tickSize":10,"title":["Net Radiative Forcing","(W/m**2)"],"titleFontSize":8.5,"titleLineHeight":9.5,"titlePadding":1}},
       "color":{"field":"series","type":"nominal","scale":{"domain":["Bard Be10","Lean 2000"],"range":["#ff0000","#0000ff"]},
        "legend":{"title":null,"orient":"none","legendX":10,"legendY":3,"symbolType":"M-2.8,0H2.8","symbolSize":36,"labelOffset":7.5,"rowPadding":0.5,
         "encode":{"labels":{"update":{"fill":{"signal":"datum.value === 'Bard Be10' ? '#ff0000' : '#0000ff'"}}}}}}
      }},
     {"data":{"name":"lab_b"},"mark":{"type":"text","fontSize":7,"font":"Liberation Sans","color":"black"},
      "encoding":{"x":{"datum":1051,"type":"quantitative"},"y":{"datum":-0.19,"type":"quantitative"},"text":{"field":"t"}}}
   ]},
   {"data":{"name":"pb"},"mark":{"type":"line","opacity":0},
    "encoding":{
     "x":{"field":"year","type":"quantitative","title":null,"scale":{"domain":[1000,2000],"nice":false,"zero":false},"axis":{"orient":"top","values":[1000,1100,1200,1300,1400,1500,1600,1700,1800,1900,2000],"tickCount":50,"labels":false,"tickSize":5,"title":null}},
     "y":{"field":"rf","type":"quantitative","scale":{"domain":[-0.3,0.5],"nice":false,"zero":false},"axis":{"orient":"left","values":[-0.3,-0.2,-0.1,0,0.1,0.2,0.3,0.4,0.5],"tickCount":50,"labels":false,"tickSize":10,"title":null}},
     "detail":{"field":"series"}
    }}
  ],
  "resolve":{"scale":{"x":"independent","y":"independent"}}
 },
 {
  "width":255,"height":82,
  "layer":[
   {"layer":[
     {"data":{"name":"pc"},"mark":{"type":"line","strokeWidth":1.5},
      "encoding":{
       "x":{"field":"year","type":"quantitative","title":null,"scale":{"domain":[1000,2000],"nice":false,"zero":false},"axis":{"orient":"bottom","values":[1000,1100,1200,1300,1400,1500,1600,1700,1800,1900,2000],"tickCount":50,"labels":false,"tickSize":6,"title":null}},
       "y":{"field":"rf","type":"quantitative","scale":{"domain":[-0.3,0.5],"nice":false,"zero":false},"axis":{"orient":"left","values":[-0.3,-0.2,-0.1,0,0.1,0.2,0.3,0.4,0.5],"tickCount":50,"labelOverlap":false,"format":".1f","tickSize":12,"title":["Net Radiative Forcing","(W/m**2)"],"titleLineHeight":10,"titlePadding":3}},
       "color":{"field":"series","type":"nominal","scale":{"domain":["C14 mod/Lean splice","Be10/Lean splice","C14 Bard/Lean splice"],"range":["#ff0000","#0000ff","#006400"]},
        "legend":{"title":null,"orient":"none","legendX":131,"legendY":4,"symbolType":"M-3.2,0H3.2","symbolSize":36,"labelOffset":9,"rowPadding":-1,
         "encode":{"labels":{"update":{"fill":{"signal":"datum.value === 'C14 mod/Lean splice' ? '#ff0000' : datum.value === 'Be10/Lean splice' ? '#0000ff' : '#006400'"}}}}}}
      }},
     {"data":{"name":"lab_c"},"mark":{"type":"text","fontSize":7,"font":"Liberation Sans","color":"black"},
      "encoding":{"x":{"datum":1051,"type":"quantitative"},"y":{"datum":0.38,"type":"quantitative"},"text":{"field":"t"}}}
   ]},
   {"data":{"name":"pc"},"mark":{"type":"line","opacity":0},
    "encoding":{
     "x":{"field":"year","type":"quantitative","title":null,"scale":{"domain":[1000,2000],"nice":false,"zero":false},"axis":{"orient":"top","values":[1000,1100,1200,1300,1400,1500,1600,1700,1800,1900,2000],"tickCount":50,"labels":false,"tickSize":5,"title":null}},
     "y":{"field":"rf","type":"quantitative","scale":{"domain":[-0.3,0.5],"nice":false,"zero":false},"axis":{"orient":"right","values":[-0.3,-0.2,-0.1,0,0.1,0.2,0.3,0.4,0.5],"tickCount":50,"labels":false,"tickSize":10,"title":null}},
     "detail":{"field":"series"}
    }}
  ],
  "resolve":{"scale":{"x":"independent","y":"independent"}}
 },
 {
  "width":255,"height":82,
  "layer":[
   {"layer":[
     {"data":{"name":"pd"},"mark":{"type":"line","strokeWidth":1.5},
      "encoding":{
       "x":{"field":"year","type":"quantitative","title":"Year","scale":{"domain":[1000,2000],"nice":false,"zero":false},"axis":{"orient":"bottom","values":[1000,1100,1200,1300,1400,1500,1600,1700,1800,1900,2000],"tickCount":50,"labelOverlap":false,"format":"d","labelExpr":"datum.value % 200 === 0 ? datum.label : ''","tickSize":5,"labelPadding":1,"title":"Year","titleFontSize":10,"titleFontWeight":"bold","titlePadding":-2}},
       "y":{"field":"rf","type":"quantitative","scale":{"domain":[-1,2.5],"nice":false,"zero":false},"axis":{"orient":"right","values":[-1,-0.5,0,0.5,1,1.5,2,2.5],"tickCount":50,"labelOverlap":false,"format":".1f","tickSize":10,"title":"Radiative Forcing (W/m**2)","titlePadding":2}},
       "color":{"field":"series","type":"nominal","scale":{"domain":["Aer RF","CO2** RF"],"range":["#0000ff","#ff0000"]},
        "legend":{"title":null,"orient":"none","legendX":162,"legendY":5,"symbolType":"M-3.7,0H3.7","symbolSize":36,"labelOffset":8,"rowPadding":1.5,
         "encode":{"labels":{"update":{"fill":{"signal":"datum.value === 'Aer RF' ? '#0000ff' : '#ff0000'"}}}}}}
      }},
     {"data":{"name":"lab_d"},"mark":{"type":"text","fontSize":7,"font":"Liberation Sans","color":"black"},
      "encoding":{"x":{"datum":1051,"type":"quantitative"},"y":{"datum":1.99,"type":"quantitative"},"text":{"field":"t"}}}
   ]},
   {"data":{"name":"pd"},"mark":{"type":"line","opacity":0},
    "encoding":{
     "x":{"field":"year","type":"quantitative","title":null,"scale":{"domain":[1000,2000],"nice":false,"zero":false},"axis":{"orient":"top","values":[1000,1100,1200,1300,1400,1500,1600,1700,1800,1900,2000],"tickCount":50,"labels":false,"tickSize":5,"title":null}},
     "y":{"field":"rf","type":"quantitative","scale":{"domain":[-1,2.5],"nice":false,"zero":false},"axis":{"orient":"left","values":[-1,-0.5,0,0.5,1,1.5,2,2.5],"tickCount":50,"labels":false,"tickSize":12,"title":null}},
     "detail":{"field":"series"}
    }}
  ],
  "resolve":{"scale":{"x":"independent","y":"independent"}}
 }
]
}
